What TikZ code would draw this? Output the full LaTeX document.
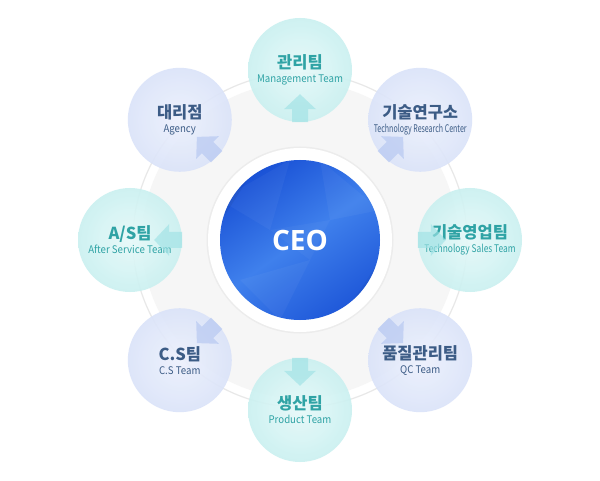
\documentclass[tikz,border=0pt]{standalone}
\usepackage{fontspec,graphicx}
\setmainfont{Noto Sans CJK KR}
\newfontfamily\ceofont{Open Sans}
\usetikzlibrary{calc}
\definecolor{tealin}{HTML}{E6F9F9}
\definecolor{tealout}{HTML}{C9F0F0}
\definecolor{tealtxt}{HTML}{2FA3A5}
\definecolor{tealarr}{HTML}{9FE2E5}
\definecolor{lavin}{HTML}{ECF0FC}
\definecolor{lavout}{HTML}{DAE3F9}
\definecolor{lavtxt}{HTML}{3C5C86}
\definecolor{lavarr}{HTML}{B4C6F1}
\definecolor{ceodark}{HTML}{1A52D6}
\definecolor{ceolight}{HTML}{3F80EC}
\newcommand{\kor}[1]{{\fontsize{16.5}{18}\selectfont\bfseries #1}}
\newcommand{\engl}[2][.92]{\scalebox{#1}[1]{#2}}

\begin{document}
\begin{tikzpicture}[x=1pt,y=1pt,>=stealth,
		pics/outarrow/.style={code={
				\fill (0,-8) -- (13,-8) -- (13,-16) -- (28,0) -- (13,16) -- (13,8) -- (0,8) -- cycle;
		}},
		team/.style={circle,minimum size=104pt,inner sep=0pt,align=center,shading=radial,fill opacity=.9,text opacity=1,
			font=\fontsize{10.5}{18}\selectfont},
		tealteam/.style={team,inner color=tealin,outer color=tealout,text=tealtxt},
		lavteam/.style={team,inner color=lavin,outer color=lavout,text=lavtxt}]
	\useasboundingbox (0,0) rectangle (600,480);
	\fill[white] (0,0) rectangle (600,480);
	\coordinate (O) at (300,240);
	\draw[gray!18,line width=1.2pt] (O) circle (167);
	\fill[gray!7] (O) circle (158);
	\fill[gray!15] (O) circle (93.5);
	\fill[white] (O) circle (92);
	\node[circle,minimum size=160pt,inner sep=0pt,top color=ceodark,bottom color=ceodark!85!ceolight,middle color=ceolight,shading angle=35,text=white] (ceo) at (O) {\ceofont\bfseries\fontsize{28}{30}\selectfont CEO};
	\begin{scope}
		\clip (O) circle (80);
		\fill[white,opacity=.04] ($(O)+(-80,40)$) -- ($(O)+(-10,80)$) -- ($(O)+(-30,10)$) -- cycle;
		\fill[white,opacity=.04] ($(O)+(20,80)$) -- ($(O)+(80,30)$) -- ($(O)+(30,20)$) -- cycle;
		\fill[black,opacity=.05] ($(O)+(-80,60)$) -- ($(O)+(-40,80)$) -- ($(O)+(-75,25)$) -- cycle;
		\fill[white,opacity=.04] ($(O)+(-60,-40)$) -- ($(O)+(10,-20)$) -- ($(O)+(-20,-80)$) -- cycle;
		\fill[black,opacity=.04] ($(O)+(40,-80)$) -- ($(O)+(80,-20)$) -- ($(O)+(60,-70)$) -- cycle;
		\fill[white,opacity=.03] ($(O)+(-30,10)$) -- ($(O)+(30,20)$) -- ($(O)+(10,-20)$) -- cycle;
	\end{scope}
	% teams round the CEO
	\node[tealteam] (mgmt) at ($(O)+(90:170)$) {\kor{관리팀}\\[-4pt]\engl{Management Team}};
	\node[lavteam] (lab) at ($(O)+(45:170)$) {\kor{기술연구소}\\[-4pt]\engl[.67]{Technology Research Center}};
	\node[tealteam] (sales) at ($(O)+(0:170)$) {\kor{기술영업팀}\\[-4pt]\engl[.8]{Technology Sales Team}};
	\node[lavteam] (qc) at ($(O)+(-45:170)$) {\kor{품질관리팀}\\[-4pt]\engl{QC Team}};
	\node[tealteam] (prod) at ($(O)+(-90:170)$) {\kor{생산팀}\\[-4pt]\engl{Product Team}};
	\node[lavteam] (cs) at ($(O)+(-135:170)$) {\kor{C.S팀}\\[-4pt]\engl{C.S Team}};
	\node[tealteam] (as) at ($(O)+(180:170)$) {\kor{A/S팀}\\[-4pt]\engl{After Service Team}};
	\node[lavteam] (agency) at ($(O)+(135:170)$) {\kor{대리점}\\[-4pt]\engl{Agency}};
	% arrows out of the CEO
	\path pic[rotate=90,fill=tealarr,opacity=.65] at (mgmt.270) {outarrow}
	pic[rotate=45,fill=lavarr,opacity=.65] at (lab.225) {outarrow}
	pic[rotate=0,fill=tealarr,opacity=.65] at (sales.180) {outarrow}
	pic[rotate=-45,fill=lavarr,opacity=.65] at (qc.135) {outarrow}
	pic[rotate=-90,fill=tealarr,opacity=.65] at (prod.90) {outarrow}
	pic[rotate=-135,fill=lavarr,opacity=.65] at (cs.45) {outarrow}
	pic[rotate=180,fill=tealarr,opacity=.65] at (as.0) {outarrow}
	pic[rotate=135,fill=lavarr,opacity=.65] at (agency.-45) {outarrow};
\end{tikzpicture}
\end{document}
